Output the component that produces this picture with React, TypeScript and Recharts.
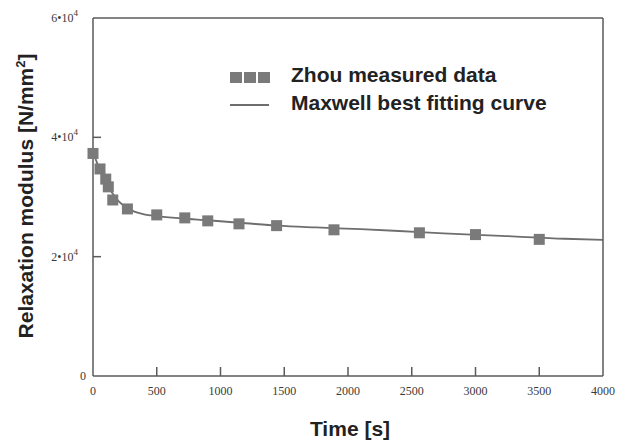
import React from "react";
import { ComposedChart, Line, Scatter, XAxis, YAxis } from "recharts";

// measured relaxation data (Zhou)
const measuredTime = [0, 55, 100, 120, 155, 270, 500, 720, 900, 1145, 1440, 1890, 2560, 3000, 3500];
const measuredModulus = [37300, 34700, 33000, 31700, 29500, 28000, 27000, 26500, 26000, 25500, 25200, 24500, 24000, 23700, 22900];

// Maxwell best fitting curve
const fitTime = [0, 25, 50, 75, 100, 150, 200, 265, 330, 400, 500, 700, 900, 1200, 1450, 1750, 2100, 2400, 2750, 3200, 3700, 4000];
const fitModulus = [37600, 36100, 34800, 33600, 32500, 30700, 29300, 28200, 27500, 27100, 26800, 26400, 26100, 25600, 25200, 24900, 24600, 24300, 23900, 23500, 23000, 22800];

const xTicks = [0, 500, 1000, 1500, 2000, 2500, 3000, 3500, 4000];
const yTicks = [0, 20000, 40000, 60000];

const measured = measuredTime.map((t, i) => ({ t, E: measuredModulus[i] }));
const fit = fitTime.map((t, i) => ({ t, E: fitModulus[i] }));

const AXIS = "#5a5a5a";
const TICK_FONT = { fontFamily: "'Liberation Serif', serif", fontSize: 12, fill: "#3a3a3a" };

function BottomTick({ x, y, payload }: any) {
  return (
    <g>
      {payload.value !== 0 && payload.value !== 4000 && (
        <line x1={x} x2={x} y1={y} y2={y - 9} stroke={AXIS} strokeWidth={1.5} />
      )}
      <text x={x} y={y + 19} textAnchor="middle" {...TICK_FONT}>
        {payload.value}
      </text>
    </g>
  );
}

function TopTick({ x, y }: any) {
  return <line x1={x} x2={x} y1={y} y2={y + 8} stroke={AXIS} strokeWidth={1.5} />;
}

function LeftTick({ x, y, payload }: any) {
  const v = payload.value;
  return (
    <g>
      {v !== 0 && v !== 60000 && (
        <line x1={x} x2={x + 8} y1={y} y2={y} stroke={AXIS} strokeWidth={1.5} />
      )}
      {v === 0 ? (
        <text x={x - 7} y={y + 4} textAnchor="end" {...TICK_FONT}>
          0
        </text>
      ) : (
        <text x={x - 15} y={y + 4} textAnchor="end" {...TICK_FONT}>
          {`${v / 10000}•10`}
          <tspan dy={-6} fontSize={9}>
            4
          </tspan>
        </text>
      )}
    </g>
  );
}

function RightTick({ x, y, payload }: any) {
  const v = payload.value;
  if (v === 0 || v === 60000) return <g />;
  return <line x1={x} x2={x - 9} y1={y} y2={y} stroke={AXIS} strokeWidth={1.5} />;
}

function SquareMark({ cx, cy }: any) {
  return <rect x={cx - 5.5} y={cy - 5.5} width={11} height={11} fill="#7a7a7a" />;
}

const LABEL_FONT = { fontFamily: "'Liberation Sans', Arial, sans-serif", fontWeight: 700, fill: "#222" };

export default function App() {
  return (
    <div style={{ position: "relative", width: 626, height: 432 }}>
      <ComposedChart
        width={626}
        height={432}
        margin={{ top: 9, right: 30, bottom: 63, left: 84 }}
      >
        <XAxis
          type="number"
          dataKey="t"
          domain={[0, 4000]}
          ticks={xTicks}
          height={1}
          tickSize={0}
          tickMargin={0}
          tickLine={false}
          axisLine={{ stroke: AXIS, strokeWidth: 1.5 }}
          tick={<BottomTick />}
          interval={0}
        />
        <XAxis
          xAxisId="top"
          orientation="top"
          type="number"
          dataKey="t"
          domain={[0, 4000]}
          ticks={xTicks.slice(1, -1)}
          height={1}
          tickSize={0}
          tickMargin={0}
          tickLine={false}
          axisLine={{ stroke: AXIS, strokeWidth: 1.5 }}
          tick={<TopTick />}
          interval={0}
        />
        <YAxis
          type="number"
          domain={[0, 60000]}
          ticks={yTicks}
          width={1}
          tickSize={0}
          tickMargin={0}
          tickLine={false}
          axisLine={{ stroke: AXIS, strokeWidth: 1.5 }}
          tick={<LeftTick />}
          interval={0}
        />
        <YAxis
          yAxisId="r"
          orientation="right"
          type="number"
          domain={[0, 60000]}
          ticks={yTicks}
          width={1}
          tickSize={0}
          tickMargin={0}
          tickLine={false}
          axisLine={{ stroke: AXIS, strokeWidth: 1.5 }}
          tick={<RightTick />}
          interval={0}
        />
        <Line
          data={fit}
          dataKey="E"
          type="monotone"
          stroke="#6e6e6e"
          strokeWidth={1.8}
          dot={false}
          activeDot={false}
          isAnimationActive={false}
        />
        <Scatter
          data={measured}
          dataKey="E"
          shape={<SquareMark />}
          isAnimationActive={false}
        />
      </ComposedChart>

      <svg
        width={626}
        height={432}
        style={{ position: "absolute", left: 0, top: 0, pointerEvents: "none" }}
      >
        {/* legend */}
        <rect x={222} y={64} width={12} height={11} fill="#7a7a7a" />
        <rect x={236} y={64} width={12} height={11} fill="#7a7a7a" />
        <rect x={250} y={64} width={12} height={11} fill="#7a7a7a" />
        <line x1={222} x2={261} y1={97} y2={97} stroke="#6e6e6e" strokeWidth={2} />
        <text x={283} y={74} fontSize={21} {...LABEL_FONT}>
          Zhou measured data
        </text>
        <text x={283} y={102} fontSize={21} {...LABEL_FONT}>
          Maxwell best fitting curve
        </text>

        {/* axis titles */}
        <text x={342} y={428} fontSize={21} textAnchor="middle" {...LABEL_FONT}>
          Time [s]
        </text>
        <text
          x={25}
          y={188}
          fontSize={21}
          textAnchor="middle"
          transform="rotate(-90 25 188)"
          {...LABEL_FONT}
        >
          Relaxation modulus [N/mm
          <tspan dy={-8} fontSize={13}>
            2
          </tspan>
          <tspan dy={8}>]</tspan>
        </text>
      </svg>
    </div>
  );
}
